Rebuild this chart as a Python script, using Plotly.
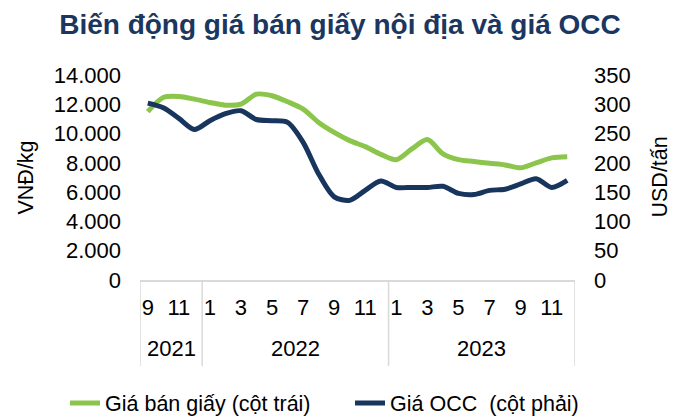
import plotly.graph_objects as go

# ---- data ----
years = ["2021"] * 4 + ["2022"] * 12 + ["2023"] * 12
months = [9, 10, 11, 12] + list(range(1, 13)) + list(range(1, 13))
paper_price = [11500, 12460, 12530, 12350, 12120, 11940, 12010, 12690, 12580, 12170,
               11670, 10760, 10080, 9520, 9110, 8580, 8210, 8950, 9590, 8610,
               8220, 8090, 7970, 7860, 7660, 8000, 8340, 8410]
occ_price = [302, 294, 276, 257, 272, 284, 289, 274, 272, 269,
             235, 181, 142, 136, 153, 169, 158, 158, 158, 160,
             148, 146, 153, 155, 164, 173, 158, 170]
series_names = ["Giá bán giấy (cột trái)", "Giá OCC  (cột phải)"]
title_text = "Biến động giá bán giấy nội địa và giá OCC"
left_title = "VNĐ/kg"
right_title = "USD/tấn"

FONT = "Liberation Sans, Arial, sans-serif"
GREEN = "#8CC54B"
NAVY = "#18355E"
GRID = "#D9D9D9"

# page body has an 8px margin, so the figure is drawn 8px smaller
W, H = 670, 409
L, R, T, B = 132, 103, 67, 137
PW, PH = W - L - R, H - T - B

idx = list(range(len(months)))
tick_idx = [i for i in idx if months[i] % 2 == 1]
tick_txt = [str(months[i]) for i in tick_idx]

fig = go.Figure()
fig.add_trace(go.Scatter(x=idx, y=paper_price, name=series_names[0], mode="lines",
                         line=dict(color=GREEN, width=5, shape="spline", smoothing=0.8)))
fig.add_trace(go.Scatter(x=idx, y=occ_price, name=series_names[1], mode="lines", yaxis="y2",
                         line=dict(color=NAVY, width=5, shape="spline", smoothing=0.8)))

# year groups: dividers and labels
groups = []
for i, y in enumerate(years):
    if not groups or groups[-1][0] != y:
        groups.append([y, i, i])
    else:
        groups[-1][2] = i

shapes = []
bounds = [groups[0][1] - 0.5] + [g[2] + 0.5 for g in groups]
for b in bounds:
    shapes.append(dict(type="line", xref="x", yref="paper", x0=b, x1=b, y0=0, y1=-86 / PH,
                       line=dict(color=GRID, width=1.5)))

annotations = []
for g in groups:
    annotations.append(dict(text=g[0], xref="x", yref="paper", x=(g[1] + g[2]) / 2, y=-68 / PH,
                            showarrow=False, yanchor="middle",
                            font=dict(family=FONT, size=22, color="#000000")))
annotations.append(dict(text=left_title, xref="paper", yref="paper", x=(17 - L) / PW, y=0.5,
                        textangle=-90, showarrow=False, xanchor="center", yanchor="middle",
                        font=dict(family=FONT, size=21.5, color="#000000")))
annotations.append(dict(text=right_title, xref="paper", yref="paper", x=(651 - L) / PW, y=0.5,
                        textangle=-90, showarrow=False, xanchor="center", yanchor="middle",
                        font=dict(family=FONT, size=21.5, color="#000000")))

fig.update_layout(
    width=W, height=H,
    margin=dict(l=L, r=R, t=T, b=B, autoexpand=False),
    paper_bgcolor="white", plot_bgcolor="white",
    separators=",.",
    title=dict(text="<b>" + title_text + "</b>", x=332 / W, xref="container", xanchor="center",
               y=1 - 16 / H, yref="container", yanchor="middle",
               font=dict(family=FONT, size=28, color="#1B365F")),
    xaxis=dict(range=[-0.5, len(idx) - 0.5], tickmode="array", tickvals=tick_idx, ticktext=tick_txt,
               showgrid=False, zeroline=False, showline=True, linecolor=GRID, linewidth=1.5,
               ticks="", ticklabelstandoff=7,
               tickfont=dict(family=FONT, size=22, color="#000000")),
    yaxis=dict(range=[0, 14000], dtick=2000, tickformat=",d", showgrid=False, zeroline=False,
               showline=False, ticks="", ticklabelstandoff=18,
               tickfont=dict(family=FONT, size=22, color="#000000")),
    yaxis2=dict(range=[0, 350], dtick=50, overlaying="y", side="right", showgrid=False,
                zeroline=False, showline=False, ticks="", ticklabelstandoff=18,
                tickfont=dict(family=FONT, size=22, color="#000000")),
    legend=dict(orientation="h", x=(57 - L) / PW, y=-123 / PH, xanchor="left", yanchor="middle",
                entrywidthmode="pixels", entrywidth=240,
                font=dict(family=FONT, size=21.5, color="#000000"), bgcolor="rgba(0,0,0,0)"),
    shapes=shapes,
    annotations=annotations,
)

fig.write_html("out.html")
